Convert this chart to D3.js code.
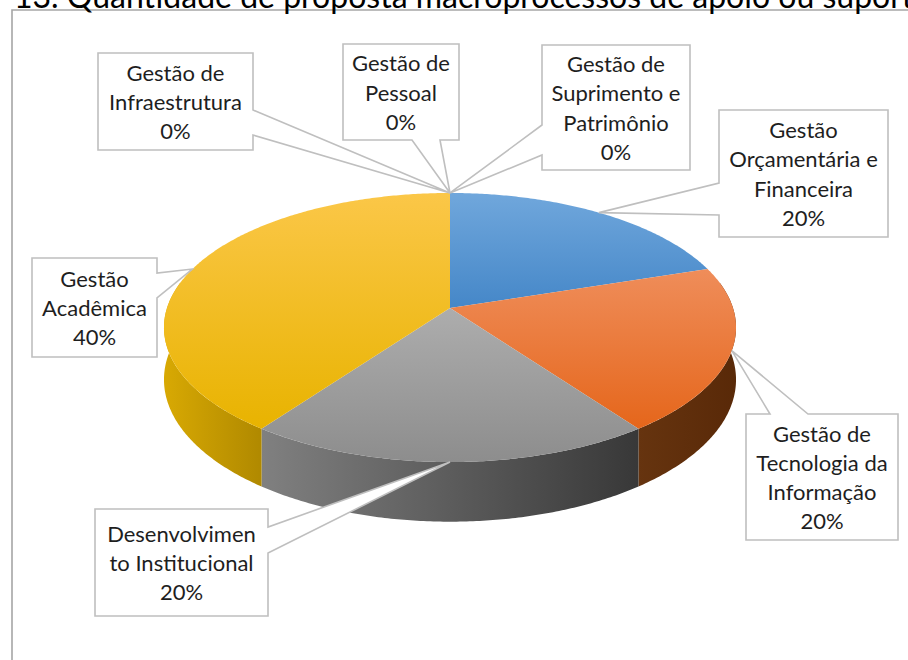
<!DOCTYPE html>
<html><head><meta charset="utf-8">
<script src="https://cdn.jsdelivr.net/npm/d3@7"></script>
<style>body{margin:0;background:#fff;overflow:hidden} svg{display:block}</style>
</head><body>
<svg id="c" width="908" height="660"></svg>
<script>
// ---- data ----
const title = "13. Quantidade de proposta macroprocessos de apoio ou suporte";
const categories = [
  "Gestão Orçamentária e Financeira",
  "Gestão de Tecnologia da Informação",
  "Desenvolvimento Institucional",
  "Gestão Acadêmica",
  "Gestão de Infraestrutura",
  "Gestão de Pessoal",
  "Gestão de Suprimento e Patrimônio"
];
const values = [20, 20, 20, 40, 0, 0, 0];
const labelLines = [
  ["Gestão", "Orçamentária e", "Financeira"],
  ["Gestão de", "Tecnologia da", "Informação"],
  ["Desenvolvimen", "to Institucional"],
  ["Gestão", "Acadêmica"],
  ["Gestão de", "Infraestrutura"],
  ["Gestão de", "Pessoal"],
  ["Gestão de", "Suprimento e", "Patrimônio"]
];

// ---- styles / layout ----
const topColors = [
  ["#70a7dc", "#4587c8"],
  ["#ef8d5a", "#e5661b"],
  ["#adadad", "#8d8d8d"],
  ["#fbc748", "#e8b300"]
];
const sideColors = [
  ["#3c6ea3", "#2f5f92"],
  ["#66340f", "#592908"],
  ["#808080", "#383838"],
  ["#d8a903", "#b08900"]
];
const boxes = [
  {x:719, y:110, w:169, h:127, side:"left",   o:[73,105]},
  {x:746, y:414, w:152, h:126, side:"top",    o:[24,62]},
  {x:95,  y:509, w:173, h:107, side:"right",  o:[18,44]},
  {x:32,  y:258, w:125, h:99,  side:"right",  o:[15,40]},
  {x:98,  y:53,  w:155, h:97,  side:"right",  o:[57,82]},
  {x:343, y:44,  w:116, h:96,  side:"bottom", o:[69,97]},
  {x:542, y:45,  w:148, h:125, side:"left",   o:[80,110]}
];

const svg = d3.select("#c");
const defs = svg.append("defs");
const FONT = "Lato, 'Open Sans', sans-serif";

// frame + title
svg.append("path").attr("d", "M12,662V10H912").attr("fill", "none")
  .attr("stroke", "#a6a6a6").attr("stroke-width", 1.6);
svg.append("text").attr("x", 14).attr("y", 8).text(title)
  .attr("font-family", FONT).attr("font-size", 32).attr("fill", "#000");

// perspective projection of the pie disc
const cx = 450, cy = 308, A = 283, B = 131.7, g = 0.145, H = 51;
function proj(a, r, z) {
  const u = r * Math.sin(a), v = -r * Math.cos(a);
  const D = 1 - g * v;
  return [cx + A * u / D, cy + (B * v + z) / D];
}
const pie = d3.pie().sort(null).value(d => d);
const arcs = pie(values);

function arcPts(a0, a1, z) {
  const n = Math.max(2, Math.ceil(Math.abs(a1 - a0) / 0.01));
  return d3.range(n + 1).map(i => proj(a0 + (a1 - a0) * i / n, 1, z));
}
const line = d3.line();

// sides
const vis0 = Math.PI / 2 - 0.2, vis1 = 3 * Math.PI / 2 + 0.2;
arcs.forEach((d, i) => {
  if (d.endAngle - d.startAngle <= 0) return;
  const a0 = Math.max(d.startAngle, vis0), a1 = Math.min(d.endAngle, vis1);
  if (a1 <= a0) return;
  const topE = arcPts(a0, a1, 0), botE = arcPts(a1, a0, H);
  const xs = topE.map(p => p[0]);
  const gid = "side" + i;
  const lg = defs.append("linearGradient").attr("id", gid)
    .attr("gradientUnits", "userSpaceOnUse")
    .attr("x1", d3.min(xs)).attr("x2", d3.max(xs)).attr("y1", 0).attr("y2", 0);
  lg.append("stop").attr("offset", 0).attr("stop-color", sideColors[i][0]);
  lg.append("stop").attr("offset", 1).attr("stop-color", sideColors[i][1]);
  svg.append("path").attr("d", line(topE.concat(botE)) + "Z")
    .attr("fill", `url(#${gid})`);
});

// top faces
arcs.forEach((d, i) => {
  if (d.endAngle - d.startAngle <= 0) return;
  const pts = [proj(0, 0, 0)].concat(arcPts(d.startAngle, d.endAngle, 0));
  const gid = "top" + i;
  const lg = defs.append("linearGradient").attr("id", gid)
    .attr("x1", 0).attr("x2", 0).attr("y1", 0).attr("y2", 1);
  lg.append("stop").attr("offset", 0).attr("stop-color", topColors[i][0]);
  lg.append("stop").attr("offset", 1).attr("stop-color", topColors[i][1]);
  svg.append("path").attr("d", line(pts) + "Z").attr("fill", `url(#${gid})`);
});

// callout labels
const pct = d3.format(".0%");
const total = d3.sum(values);
function callout(b, tip) {
  const {x, y, w, h, side, o} = b;
  const p = [[x, y]];
  if (side === "top") p.push([x + o[0], y], tip, [x + o[1], y]);
  p.push([x + w, y]);
  if (side === "right") p.push([x + w, y + o[0]], tip, [x + w, y + o[1]]);
  p.push([x + w, y + h]);
  if (side === "bottom") p.push([x + o[1], y + h], tip, [x + o[0], y + h]);
  p.push([x, y + h]);
  if (side === "left") p.push([x, y + o[1]], tip, [x, y + o[0]]);
  return line(p) + "Z";
}
const LH = 29.3;
arcs.forEach((d, i) => {
  const mid = (d.startAngle + d.endAngle) / 2;
  const tip = proj(mid, 1, 0);
  const b = boxes[i];
  svg.append("path").attr("d", callout(b, tip)).attr("fill", "#fff")
    .attr("stroke", "#bfbfbf").attr("stroke-width", 1.6).attr("stroke-linejoin", "miter");
  const lines = labelLines[i].concat([pct(values[i] / total)]);
  const c = b.y + b.h / 2;
  const t = svg.append("text").attr("font-family", FONT).attr("font-size", 22)
    .attr("fill", "#1e1e1e").attr("text-anchor", "middle");
  lines.forEach((s, k) => {
    t.append("tspan").attr("x", b.x + b.w / 2)
      .attr("y", c + (k - (lines.length - 1) / 2) * LH)
      .attr("dominant-baseline", "central").text(s);
  });
});
</script>
</body></html>
